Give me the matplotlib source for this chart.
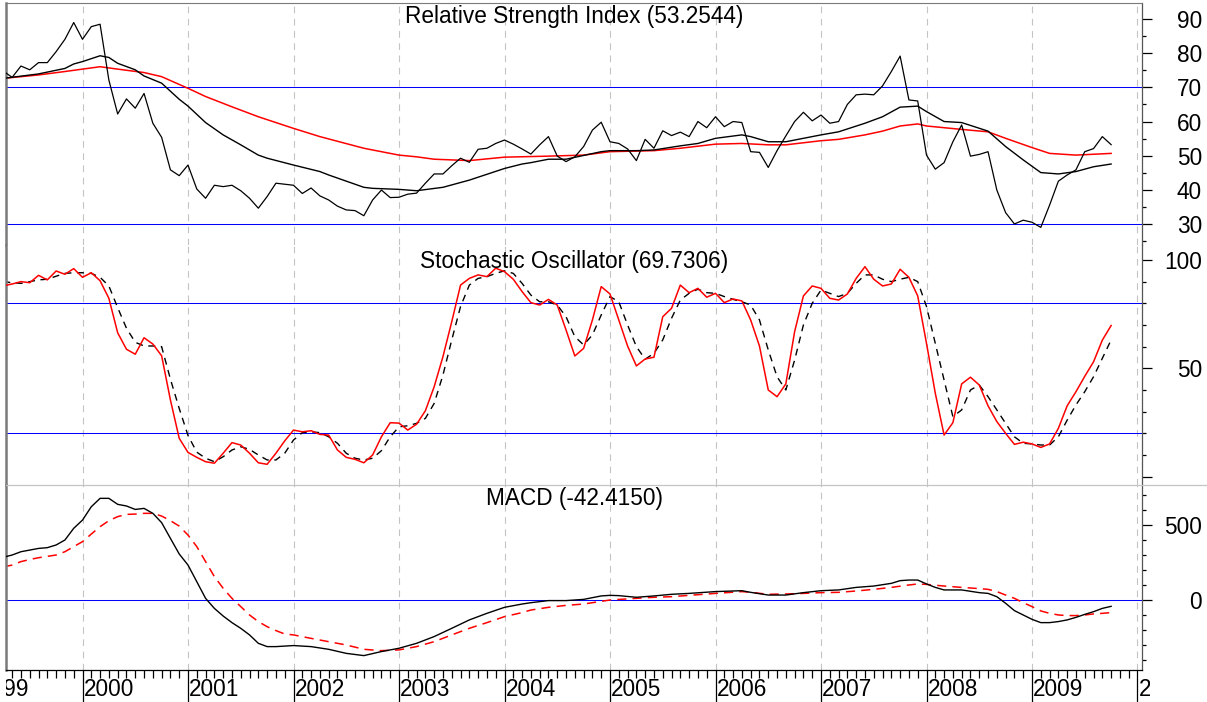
"""Monthly RSI / stochastic / MACD indicator panels, 1999-2009."""
import matplotlib

matplotlib.use("Agg")
import matplotlib.pyplot as plt
import matplotlib.transforms as mtransforms
import numpy as np
from matplotlib.ticker import FixedLocator, MultipleLocator, NullFormatter

plt.rcParams["font.family"] = ["Liberation Sans", "DejaVu Sans"]

W, H = 1207, 702
START_M = 3  # months since Jan 1999 of the first monthly value (Apr 1999)

# --- RSI (monthly, Apr 1999 .. Oct 2009) ---
rsi = [
    74.7, 72.9, 76.2, 75.1, 77.2, 77.2, 80.4, 84.0, 88.9,
    84.0, 87.7, 88.4, 72.1, 62.2, 66.6, 63.9, 68.2, 59.5, 55.4, 45.9, 44.2,
    47.3, 40.3, 37.6, 41.4, 41.0, 41.4, 39.8, 37.6, 34.7, 38.1, 42.0, 41.7,
    41.4, 39.0, 40.6, 38.3, 37.1, 35.3, 34.2, 34.0, 32.5, 37.1, 40.0, 37.8,
    37.9, 38.8, 39.1, 42.0, 44.7, 44.7, 47.1, 49.3, 48.1, 51.9, 52.2, 53.6,
    54.6, 53.4, 52.0, 50.5, 53.2, 55.6, 49.9, 48.3, 49.7, 52.7, 57.5, 59.8,
    54.1, 53.6, 52.0, 48.6, 54.8, 52.2, 57.3, 55.9, 56.9, 55.6, 60.0, 58.2,
    61.4, 58.5, 60.0, 59.7, 51.2, 51.0, 46.6, 51.5, 55.8, 60.0, 62.7, 60.2,
    61.9, 59.5, 60.0, 65.0, 67.8, 68.0, 67.8, 70.4, 74.6, 79.1, 66.3, 66.0,
    50.2, 46.1, 48.0, 54.1, 59.0, 49.9, 50.4, 51.2, 40.0, 33.4, 30.1, 31.2,
    30.6, 29.1, 35.6, 42.6, 44.4, 45.9, 51.2, 52.1, 55.6, 53.2544,
]
# RSI moving averages, read at selected months (months since Jan 1999)
rsi_ma1_m = [3, 7, 10, 11, 12, 14, 15, 16, 18, 19, 21, 23, 24, 26, 28, 30, 32, 33,
             36, 39, 40, 44, 45, 48, 50, 53, 56, 60, 62, 63, 65, 67, 69, 71, 72, 75,
             77, 80, 82, 84, 87, 88, 90, 92, 94, 96, 98, 101, 103, 105, 107, 108,
             110, 112, 115, 117, 119, 121, 123, 125, 127, 129]
rsi_ma1 = [72.6, 73.9, 75.5, 76.8, 77.5, 79.2, 78.7, 77.0, 75.1, 73.3, 71.2, 66.5,
           64.5, 59.7, 56.1, 53.2, 50.2, 49.3, 47.3, 45.4, 44.4, 40.8, 40.5, 40.2,
           39.8, 40.8, 42.9, 46.3, 47.6, 48.0, 49.0, 49.0, 50.1, 51.2, 51.5, 51.5,
           51.7, 52.9, 53.6, 55.1, 56.1, 55.6, 54.1, 54.1, 55.1, 56.1, 57.0, 59.5,
           61.4, 64.2, 64.5, 62.9, 60.0, 59.7, 57.2, 52.7, 48.8, 45.1, 44.7, 45.4,
           46.8, 47.6]
rsi_ma2_m = [3, 7, 10, 12, 14, 16, 19, 21, 24, 26, 29, 32, 36, 39, 44, 48, 50, 52,
             56, 60, 65, 69, 72, 77, 80, 84, 87, 90, 92, 96, 98, 101, 103, 105, 107,
             108, 112, 115, 117, 120, 122, 125, 129]
rsi_ma2 = [72.6, 73.6, 74.6, 75.3, 76.0, 75.3, 74.3, 73.1, 69.7, 67.3, 64.3, 61.4,
           58.0, 55.6, 52.2, 50.2, 49.7, 49.0, 48.6, 49.6, 49.9, 50.2, 51.2, 51.5,
           52.2, 53.4, 53.6, 53.2, 53.2, 54.4, 54.8, 56.1, 57.2, 58.7, 59.3, 58.7,
           57.7, 57.0, 55.1, 52.4, 50.7, 50.2, 50.7]

# --- Stochastic oscillator (monthly, Apr 1999 .. Oct 2009) ---
stoch_k = [
    88.1, 88.9, 90.0, 89.5, 92.9, 90.8, 94.9, 93.4, 96.0,
    92.0, 94.1, 90.4, 82.3, 66.4, 58.8, 56.5, 64.1, 61.2, 55.8, 35.4, 17.7,
    11.2, 8.9, 6.9, 6.2, 10.8, 15.7, 14.6, 10.8, 6.4, 5.7, 10.8, 16.5,
    21.5, 20.7, 21.2, 19.5, 19.2, 12.3, 8.9, 8.0, 6.4, 10.0, 18.4, 24.9,
    24.7, 21.5, 24.2, 30.4, 41.5, 55.4, 71.5, 88.4, 91.5, 93.1, 92.3, 96.2,
    94.6, 91.1, 85.4, 80.3, 79.2, 81.8, 79.2, 67.7, 55.7, 59.2, 72.3, 87.7,
    84.3, 72.3, 60.3, 51.1, 54.3, 55.1, 73.8, 77.7, 88.4, 84.9, 86.9, 82.8,
    84.6, 80.3, 82.0, 81.1, 72.3, 60.3, 40.0, 36.9, 42.8, 66.9, 83.4, 88.0,
    86.9, 82.3, 81.5, 84.3, 91.5, 96.9, 91.1, 88.0, 88.9, 95.7, 92.0, 83.4,
    61.5, 38.5, 19.2, 24.9, 42.8, 45.9, 42.3, 32.7, 25.4, 20.0, 14.9, 15.9,
    15.1, 13.5, 15.1, 22.3, 32.7, 39.2, 46.3, 53.0, 63.0, 69.7306,
]
stoch_d = [
    90.0, 89.5, 89.2, 90.0, 90.8, 91.1, 92.5, 93.8, 94.1,
    94.1, 93.8, 92.0, 88.0, 78.0, 68.5, 62.0, 60.3, 60.3, 60.0, 45.0, 31.5,
    19.0, 11.3, 8.5, 6.9, 9.2, 12.3, 13.8, 12.6, 10.0, 7.7, 7.7, 10.8,
    16.9, 20.3, 20.7, 20.3, 18.4, 15.4, 10.8, 8.5, 7.7, 8.5, 12.0, 18.4,
    23.0, 23.5, 24.6, 26.9, 33.8, 46.9, 63.1, 78.5, 88.4, 91.5, 92.3, 93.8,
    95.0, 93.8, 89.2, 83.8, 80.7, 80.7, 79.2, 73.8, 64.6, 60.8, 65.4, 74.6,
    83.1, 80.7, 70.0, 60.0, 54.2, 56.9, 63.1, 73.1, 81.5, 84.6, 86.5, 84.9,
    84.6, 83.1, 81.8, 80.7, 79.2, 72.3, 58.5, 46.1, 40.0, 53.8, 70.0, 80.0,
    86.1, 84.6, 83.1, 84.6, 89.2, 93.1, 93.1, 91.1, 90.0, 91.1, 92.0, 90.0,
    78.5, 61.5, 44.6, 27.7, 30.8, 40.0, 42.3, 36.9, 30.8, 24.6, 18.4, 15.4,
    15.1, 14.6, 14.6, 18.4, 26.1, 33.1, 39.2, 46.1, 54.6, 63.1,
]

# --- MACD line and signal, read at selected months ---
macd_m = [3, 4, 5, 6, 7, 8, 9, 10, 11, 12, 13, 14, 15, 16, 17, 18, 19, 20, 21, 22,
          23, 24, 25, 26, 27, 28, 29, 30, 31, 32, 33, 34, 36, 38, 40, 42, 44, 46,
          48, 50, 52, 54, 56, 58, 60, 62, 63, 65, 67, 69, 71, 72, 73, 75, 77, 79,
          81, 84, 87, 88, 90, 92, 94, 96, 98, 100, 102, 104, 105, 106, 107, 108,
          109, 110, 112, 114, 115, 116, 117, 118, 119, 120, 121, 122, 123, 124,
          125, 126, 127, 128, 129]
macd = [285, 300, 322, 333, 344, 349, 367, 400, 478, 533, 622, 678, 678, 638, 627,
        604, 611, 578, 516, 411, 307, 233, 122, 11, -56, -107, -151, -189, -233,
        -289, -311, -311, -304, -311, -329, -356, -371, -344, -322, -289, -244,
        -189, -133, -89, -49, -27, -18, -4, -4, 4, 27, 31, 29, 18, 27, 38, 44, 56,
        62, 51, 33, 33, 49, 62, 67, 84, 93, 111, 129, 133, 133, 107, 84, 67, 67,
        49, 44, 22, -22, -71, -100, -129, -151, -151, -144, -133, -116, -96, -78,
        -56, -42.415]
signal_m = [3, 4, 5, 6, 7, 8, 9, 10, 11, 12, 13, 14, 15, 16, 17, 18, 19, 20, 21,
            22, 23, 24, 25, 26, 27, 28, 29, 30, 31, 32, 33, 34, 35, 36, 38, 40, 42,
            44, 46, 48, 50, 52, 54, 56, 58, 60, 62, 63, 65, 67, 69, 71, 72, 75, 77,
            79, 81, 84, 87, 88, 90, 92, 94, 96, 98, 100, 102, 104, 106, 107, 108,
            110, 112, 114, 115, 116, 117, 118, 119, 120, 121, 122, 123, 124, 125,
            126, 127, 128, 129]
signal = [220, 233, 256, 270, 282, 291, 300, 322, 356, 389, 440, 489, 529, 556, 571,
          573, 578, 578, 560, 529, 493, 433, 356, 256, 156, 78, 11, -44, -100, -144,
          -178, -204, -227, -233, -256, -278, -300, -329, -338, -333, -311, -278,
          -233, -189, -151, -111, -84, -67, -49, -36, -27, -9, 0, 11, 18, 22, 31,
          44, 56, 51, 38, 40, 44, 49, 51, 60, 71, 84, 100, 107, 104, 93, 84, 76, 71,
          56, 33, 11, -18, -44, -73, -89, -100, -104, -104, -100, -93, -89, -84]

years = list(range(1999, 2011))
rsi_labels = [30, 40, 50, 60, 70, 80, 90]
stoch_labels = [50, 100]
macd_labels = [0, 500]

x_left = 2000 - (82.5 - 6) / 105.5
x_right = 2000 + (1142 - 82.5) / 105.5


def rect(x0, y0, x1, y1):
    return [x0 / W, 1 - y1 / H, (x1 - x0) / W, (y1 - y0) / H]


def to_year(months):
    return 1999 + np.asarray(months) / 12.0


monthly_x = to_year(np.arange(START_M, START_M + len(rsi)))

fig = plt.figure(figsize=(W / 100, H / 100), dpi=100)
ax_rsi = fig.add_axes(rect(6, 3, 1142, 245))
ax_sto = fig.add_axes(rect(6, 245, 1142, 485))
ax_macd = fig.add_axes(rect(6, 485, 1142, 670))
ax_lbl = fig.add_axes(rect(6, 670, 1150, 702))

grid_kw = dict(color="#c4c4c4", lw=0.8, dashes=(6, 5), zorder=0)
blue_kw = dict(color="#0000ff", lw=0.75, zorder=1)
TFS = 16.3


def right_labels(ax, values):
    # labels right-aligned against the figure edge, a touch below the tick
    tr = mtransforms.blended_transform_factory(fig.transFigure, ax.transData)
    tr = tr + mtransforms.ScaledTranslation(0, -2.5 / 100, fig.dpi_scale_trans)
    for v in values:
        ax.text(1202 / W, v, f"{v:g}", transform=tr, ha="right", va="center",
                fontsize=TFS, clip_on=False)


for ax in (ax_rsi, ax_sto, ax_macd):
    for y in years[1:]:
        ax.axvline(y, **grid_kw)
    for side in ("top", "bottom"):
        ax.spines[side].set_visible(False)
    ax.spines["left"].set_color("#7a7a7a")
    ax.spines["left"].set_linewidth(1.8)
    ax.spines["right"].set_color("#555555")
    ax.spines["right"].set_linewidth(0.9)
    ax.yaxis.tick_right()
    ax.yaxis.set_major_formatter(NullFormatter())
    ax.tick_params(axis="y", which="major", direction="out", length=7.2,
                   width=0.9, colors="black")
    ax.tick_params(axis="y", which="minor", direction="out", length=3,
                   width=0.9)
    ax.tick_params(axis="x", which="both", bottom=False, labelbottom=False)

ax_rsi.spines["top"].set_visible(True)
ax_rsi.spines["top"].set_color("#7a7a7a")

# RSI panel
ax_rsi.axhline(70, **blue_kw)
ax_rsi.axhline(30, **blue_kw)
ax_rsi.plot(to_year(rsi_ma2_m), rsi_ma2, color="#ff0000", lw=1.1, zorder=2)
ax_rsi.plot(to_year(rsi_ma1_m), rsi_ma1, color="black", lw=1.0, zorder=3)
ax_rsi.plot(monthly_x, rsi, color="black", lw=0.9, zorder=3)
ax_rsi.yaxis.set_major_locator(FixedLocator(rsi_labels))
ax_rsi.yaxis.set_minor_locator(MultipleLocator(5))
ax_rsi.set_ylim(23.96, 94.6)
right_labels(ax_rsi, rsi_labels)
ax_rsi.text(0.5, 1 - 14 / 242, "Relative Strength Index (53.2544)",
            transform=ax_rsi.transAxes, ha="center", va="center", fontsize=TFS)

# stochastic panel
ax_sto.axhline(80, **blue_kw)
ax_sto.axhline(20, **blue_kw)
ax_sto.plot(monthly_x, stoch_d, color="black", lw=1.0, dashes=(5, 4), zorder=2)
ax_sto.plot(monthly_x, stoch_k, color="#ff0000", lw=1.1, zorder=3)
ax_sto.yaxis.set_major_locator(FixedLocator([0, 50, 100]))
ax_sto.yaxis.set_minor_locator(MultipleLocator(10))
ax_sto.set_ylim(-3.85, 106.9)
right_labels(ax_sto, stoch_labels)
ax_sto.text(0.5, 1 - 17 / 240, "Stochastic Oscillator (69.7306)",
            transform=ax_sto.transAxes, ha="center", va="center", fontsize=TFS)

# MACD panel
ax_macd.axhline(0, **blue_kw)
ax_macd.plot(to_year(signal_m), signal, color="#ff0000", lw=1.1, dashes=(6, 4),
             zorder=2)
ax_macd.plot(to_year(macd_m), macd, color="black", lw=1.0, zorder=3)
ax_macd.yaxis.set_major_locator(FixedLocator(macd_labels))
ax_macd.yaxis.set_minor_locator(MultipleLocator(100))
ax_macd.set_ylim(-467, 767)
right_labels(ax_macd, macd_labels)
ax_macd.text(0.5, 1 - 13 / 185, "MACD (-42.4150)",
             transform=ax_macd.transAxes, ha="center", va="center", fontsize=TFS)
ax_macd.spines["bottom"].set_visible(True)
ax_macd.spines["bottom"].set_color("black")
ax_macd.spines["bottom"].set_linewidth(0.9)
ax_macd.xaxis.set_major_locator(FixedLocator(years))
ax_macd.xaxis.set_minor_locator(FixedLocator(to_year(np.arange(0, 133))))
ax_macd.tick_params(axis="x", which="both", bottom=True, direction="out",
                    colors="black", width=0.9)
ax_macd.tick_params(axis="x", which="major", length=24)
ax_macd.tick_params(axis="x", which="minor", length=5.5)

for ax in (ax_rsi, ax_sto, ax_macd):
    ax.set_xlim(x_left, x_right)

# separator between stochastic and MACD panels, running to the figure edge
fig.add_artist(plt.Line2D([6 / W, 1.0], [1 - 485 / H] * 2, color="#c4c4c4",
                          lw=0.9, transform=fig.transFigure))

# year labels, clipped at the plot edges
ax_lbl.set_xlim(x_left, 2000 + (1150 - 82.5) / 105.5)
ax_lbl.set_ylim(0, 1)
ax_lbl.axis("off")
for y in years:
    ax_lbl.text(y + 0.012, 0.38, str(y), fontsize=TFS, ha="left", va="center",
                clip_on=True)

fig.savefig("out.png", dpi=100)
